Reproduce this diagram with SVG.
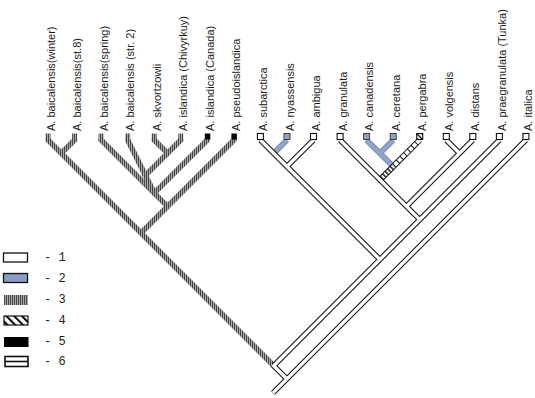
<svg xmlns="http://www.w3.org/2000/svg" width="535" height="398" viewBox="0 0 535 398">
<style>
.lbl{font-family:"Liberation Sans",Arial,sans-serif;font-size:11px;fill:#1c1c1c}
.leg{font-family:"Liberation Mono","Courier New",monospace;font-size:12px;fill:#222}
.h3{fill:none;stroke:url(#p3);stroke-width:5.5;stroke-linecap:round}
.bo{fill:none;stroke:#6a7ea6;stroke-width:5.5;stroke-linecap:butt}
.bi{fill:none;stroke:#91a4c9;stroke-width:4;stroke-linecap:butt}
.wo{fill:none;stroke:#111;stroke-width:5.5;stroke-linecap:butt}
.wi{fill:none;stroke:#fff;stroke-width:3.4;stroke-linecap:butt}
.sqw{fill:#fff;stroke:#111;stroke-width:1.1}
.sqb{fill:#8ea1c6;stroke:#333;stroke-width:0.9}
.sqh{fill:url(#p3)}
.sqk{fill:#000}
</style>
<defs>
<pattern id="p3" width="2" height="4" patternUnits="userSpaceOnUse"><rect width="2" height="4" fill="#a8a8a8"/><rect width="1" height="4" fill="#474747"/></pattern>
<pattern id="p4" width="3.5" height="10" patternUnits="userSpaceOnUse" patternTransform="rotate(-45)"><rect width="3.5" height="10" fill="#fff"/><rect width="1.3" height="10" fill="#000"/></pattern>
<pattern id="p4L" width="5.5" height="10" patternUnits="userSpaceOnUse" patternTransform="rotate(-45)"><rect width="5.5" height="10" fill="#fff"/><rect width="2" height="10" fill="#000"/></pattern>
</defs>
<rect width="535" height="398" fill="#fff"/>
<g id="connectors">
<g id="hatched">
<path class="h3" d="M48,140 L273.7,365.7"/>
<path class="h3" d="M74.6,140 L61.3,153.3"/>
<path class="h3" d="M233.9,140 L141,233"/>
<path class="h3" d="M101.1,140 L167.5,206.4"/>
<path class="h3" d="M207.3,140 L154.2,193.1"/>
<path class="h3" d="M127.7,140 L154.2,193.1"/>
<path class="h3" d="M154.2,140 L167.5,153.3"/>
<path class="h3" d="M180.8,140 L145.4,175.4"/>
</g>
<g id="blue">
<path class="bo" d="M287,140 L273.7,153.3"/>
<path class="bo" d="M393.2,140 L379.9,153.3"/>
<path class="bo" d="M366.6,140 L393.15,166.55"/>
<path class="bi" d="M287,140 L273.7,153.3"/>
<path class="bi" d="M393.2,140 L379.9,153.3"/>
<path class="bi" d="M366.6,140 L393.15,166.55"/>
</g>
<g id="pergabra">
<path fill="none" stroke="#111" stroke-width="6" d="M419.7,140 L393.15,166.55"/>
<path fill="none" stroke="#fff" stroke-width="4" stroke-dasharray="4.2 1" d="M419.7,140 L393.15,166.55"/>
<path fill="none" stroke="#111" stroke-width="6" d="M393.15,166.55 L379.9,179.8"/>
<path fill="none" stroke="url(#p4)" stroke-width="4" d="M393.15,166.55 L379.9,179.8"/>
</g>
<g id="white">
<path class="wo" d="M260.4,140 L379.9,259.5 M313.5,140 L286.95,166.55 M340.1,140 L419.75,219.65 M446.3,140 L459.55,153.25 M472.8,140 L406.45,206.35 M499.4,140 L273.7,365.7 M272.7,364.7 L286.95,378.95 M525.9,140 L273,392.9"/>
<path class="wi" d="M260.4,140 L379.9,259.5 M313.5,140 L286.95,166.55 M340.1,140 L419.75,219.65 M446.3,140 L459.55,153.25 M472.8,140 L406.45,206.35 M499.4,140 L273.7,365.7 M272.7,364.7 L286.95,378.95 M525.9,140 L273,392.9"/>
</g>
</g>
<g id="tip-winter"><rect class="sqh" x="45.5" y="133.5" width="5" height="6"/><text class="lbl" transform="translate(54.5,131) rotate(-90)">A. baicalensis(winter)</text></g>
<g id="tip-st8"><rect class="sqh" x="72.1" y="133.5" width="5" height="6"/><text class="lbl" transform="translate(81.1,131) rotate(-90)">A. baicalensis(st.8)</text></g>
<g id="tip-spring"><rect class="sqh" x="98.6" y="133.5" width="5" height="6"/><text class="lbl" transform="translate(107.6,131) rotate(-90)">A. baicalensis(spring)</text></g>
<g id="tip-str2"><rect class="sqh" x="125.2" y="133.5" width="5" height="6"/><text class="lbl" transform="translate(134.2,131) rotate(-90)">A. baicalensis (str. 2)</text></g>
<g id="tip-skvortzowii"><rect class="sqh" x="151.7" y="133.5" width="5" height="6"/><text class="lbl" transform="translate(160.7,131) rotate(-90)">A. skvortzowii</text></g>
<g id="tip-chivyrkuy"><rect class="sqh" x="178.3" y="133.5" width="5" height="6"/><text class="lbl" transform="translate(187.3,131) rotate(-90)">A. islandica (Chivyrkuy)</text></g>
<g id="tip-canada"><rect class="sqk" x="204.8" y="133.5" width="5.5" height="6"/><text class="lbl" transform="translate(213.8,131) rotate(-90)">A. islandica (Canada)</text></g>
<g id="tip-pseudoislandica"><rect class="sqk" x="231.4" y="133.5" width="5.5" height="6"/><text class="lbl" transform="translate(240.4,131) rotate(-90)">A. pseudoislandica</text></g>
<g id="tip-subarctica"><rect class="sqw" x="257.4" y="133.5" width="6" height="6"/><text class="lbl" transform="translate(266.9,131) rotate(-90)">A. subarctica</text></g>
<g id="tip-nyassensis"><rect class="sqb" x="284" y="133.5" width="6" height="6"/><text class="lbl" transform="translate(293.5,131) rotate(-90)">A. nyassensis</text></g>
<g id="tip-ambigua"><rect class="sqw" x="310.5" y="133.5" width="6" height="6"/><text class="lbl" transform="translate(320,131) rotate(-90)">A. ambigua</text></g>
<g id="tip-granulata"><rect class="sqw" x="337.1" y="133.5" width="6" height="6"/><text class="lbl" transform="translate(346.6,131) rotate(-90)">A. granulata</text></g>
<g id="tip-canadensis"><rect class="sqb" x="363.6" y="133.5" width="6" height="6"/><text class="lbl" transform="translate(373.1,131) rotate(-90)">A. canadensis</text></g>
<g id="tip-ceretana"><rect class="sqb" x="390.2" y="133.5" width="6" height="6"/><text class="lbl" transform="translate(399.7,131) rotate(-90)">A. ceretana</text></g>
<g id="tip-pergabra"><rect x="416.7" y="133.5" width="6" height="6" fill="url(#p4)" stroke="#111" stroke-width="1.1"/><text class="lbl" transform="translate(426.2,131) rotate(-90)">A. pergabra</text></g>
<g id="tip-volgensis"><rect class="sqw" x="443.3" y="133.5" width="6" height="6"/><text class="lbl" transform="translate(452.8,131) rotate(-90)">A. volgensis</text></g>
<g id="tip-distans"><rect class="sqw" x="469.8" y="133.5" width="6" height="6"/><text class="lbl" transform="translate(479.3,131) rotate(-90)">A. distans</text></g>
<g id="tip-praegranulata"><rect class="sqw" x="496.4" y="133.5" width="6" height="6"/><text class="lbl" transform="translate(505.9,131) rotate(-90)">A. praegranulata (Tunka)</text></g>
<g id="tip-italica"><rect class="sqw" x="522.9" y="133.5" width="6" height="6"/><text class="lbl" transform="translate(532.4,131) rotate(-90)">A. italica</text></g>
<g id="legend">
<rect x="3.5" y="253" width="24" height="9" fill="#fff" stroke="#111" stroke-width="1.3"/>
<text class="leg" x="44" y="261">- 1</text>
<rect x="3.5" y="273.5" width="24" height="9" fill="#8a9cc2" stroke="#111" stroke-width="1.3"/>
<text class="leg" x="44" y="281.5">- 2</text>
<rect x="4" y="295" width="24" height="10" fill="url(#p3)"/>
<text class="leg" x="44" y="302.5">- 3</text>
<rect x="4" y="316" width="24" height="9" fill="url(#p4L)" stroke="#111" stroke-width="1.2"/>
<text class="leg" x="44" y="324">- 4</text>
<rect x="4" y="337" width="24.5" height="10" fill="#000"/>
<text class="leg" x="44" y="345">- 5</text>
<rect x="5" y="356.5" width="23" height="10" fill="#fff" stroke="#111" stroke-width="1.6"/>
<line x1="5" y1="361.5" x2="28" y2="361.5" stroke="#111" stroke-width="1.6"/>
<text class="leg" x="44" y="364.5">- 6</text>
</g>
</svg>
